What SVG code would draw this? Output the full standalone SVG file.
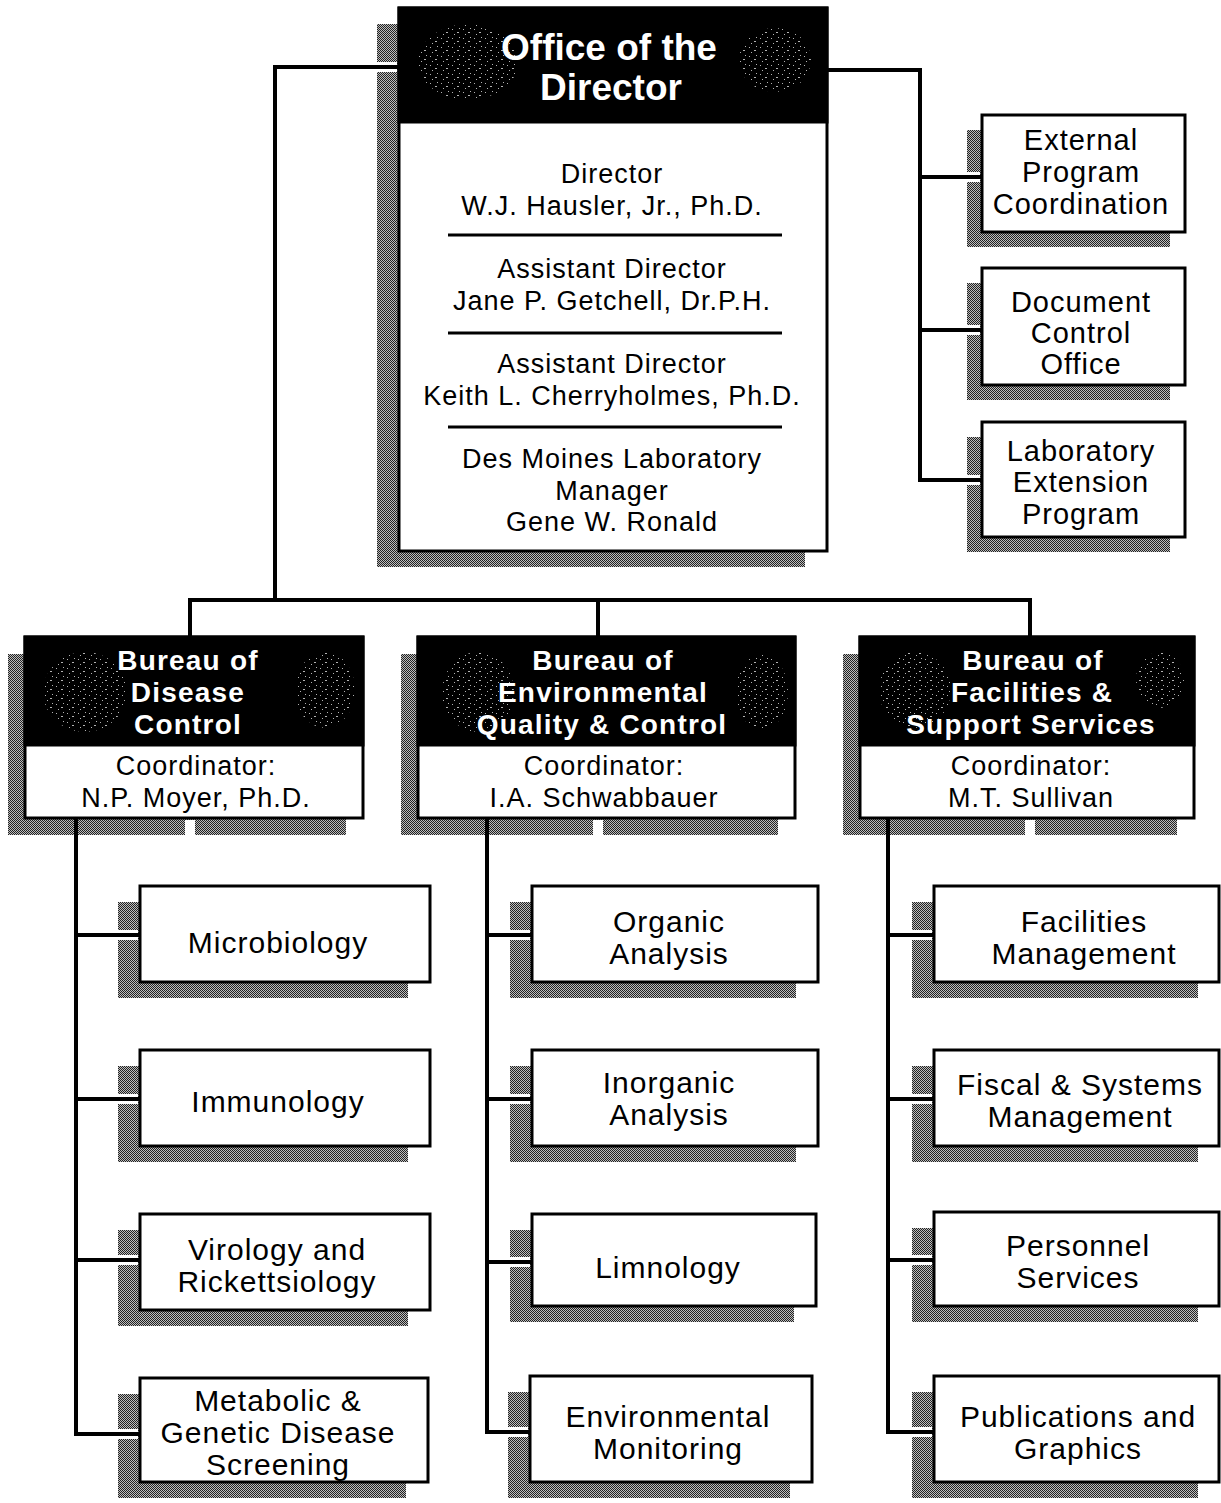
<svg xmlns="http://www.w3.org/2000/svg" width="1221" height="1503" viewBox="0 0 1221 1503">
<defs>
<pattern id="dots" patternUnits="userSpaceOnUse" width="2" height="2">
<rect width="2" height="2" fill="#bdbdbd"/>
<rect width="1" height="1" fill="#222"/>
<rect x="1" y="1" width="1" height="1" fill="#222"/>
</pattern>
<pattern id="speck" patternUnits="userSpaceOnUse" width="11" height="9">
<rect x="1" y="2" width="1" height="1" fill="#fff"/>
<rect x="6" y="5" width="2" height="1" fill="#fff"/>
<rect x="8" y="1" width="1" height="1" fill="#fff"/>
<rect x="3" y="7" width="1" height="1" fill="#fff"/>
</pattern>
<style>
.sh{fill:url(#dots)}
.box{fill:#fff;stroke:#000;stroke-width:3}
.hdr{fill:#000;stroke:#000;stroke-width:3}
.spk{fill:url(#speck);opacity:0.7}
.sep{stroke:#000;stroke-width:3}
.t{font-family:"Liberation Sans",Arial,Helvetica,sans-serif;font-size:27px;letter-spacing:1px;text-anchor:middle;fill:#000}
.ts{font-size:30px}
.tr{font-size:29px}
.h{font-weight:bold;fill:#fff;font-size:28px;letter-spacing:1.2px}
.ho{font-size:37px;letter-spacing:0}
.conn{stroke:#000;stroke-width:4;fill:none}
.halo{stroke:#fff;stroke-width:10;fill:none}
</style>
</defs>
<rect width="1221" height="1503" fill="#fff"/>

<g id="office-director">
<rect class="sh" x="377" y="24" width="428" height="543"/>
<rect class="box" x="399" y="8" width="428" height="543"/>
<rect class="hdr" x="399" y="8" width="428" height="114"/>
<ellipse class="spk" cx="468" cy="62" rx="50" ry="38"/>
<ellipse class="spk" cx="775" cy="60" rx="36" ry="32"/>
<text class="t h ho" x="609" y="60">Office of the</text>
<text class="t h ho" x="611" y="100">Director</text>
<text class="t" x="612" y="183">Director</text>
<text class="t" x="612" y="215">W.J. Hausler, Jr., Ph.D.</text>
<line class="sep" x1="448" y1="235" x2="782" y2="235"/>
<text class="t" x="612" y="278">Assistant Director</text>
<text class="t" x="612" y="310">Jane P. Getchell, Dr.P.H.</text>
<line class="sep" x1="448" y1="333" x2="782" y2="333"/>
<text class="t" x="612" y="373">Assistant Director</text>
<text class="t" x="612" y="405">Keith L. Cherryholmes, Ph.D.</text>
<line class="sep" x1="448" y1="427" x2="782" y2="427"/>
<text class="t" x="612" y="468">Des Moines Laboratory</text>
<text class="t" x="612" y="500">Manager</text>
<text class="t" x="612" y="531">Gene W. Ronald</text>
</g>

<g id="external-program">
<rect class="sh" x="967" y="130" width="203" height="117"/>
<rect class="box" x="982" y="115" width="203" height="117"/>
<text class="t tr" x="1081" y="150">External</text>
<text class="t tr" x="1081" y="182">Program</text>
<text class="t tr" x="1081" y="214">Coordination</text>
</g>

<g id="document-control">
<rect class="sh" x="967" y="283" width="203" height="117"/>
<rect class="box" x="982" y="268" width="203" height="117"/>
<text class="t tr" x="1081" y="312">Document</text>
<text class="t tr" x="1081" y="343">Control</text>
<text class="t tr" x="1081" y="374">Office</text>
</g>

<g id="lab-extension">
<rect class="sh" x="967" y="437" width="203" height="115"/>
<rect class="box" x="982" y="422" width="203" height="115"/>
<text class="t tr" x="1081" y="461">Laboratory</text>
<text class="t tr" x="1081" y="492">Extension</text>
<text class="t tr" x="1081" y="524">Program</text>
</g>

<g id="bureau-disease">
<rect class="sh" x="8" y="654" width="338" height="181"/>
<rect class="box" x="25" y="637" width="338" height="181"/>
<rect class="hdr" x="25" y="637" width="338" height="108"/>
<ellipse class="spk" cx="85" cy="692" rx="42" ry="40"/>
<ellipse class="spk" cx="325" cy="690" rx="30" ry="38"/>
<text class="t h" x="188" y="670">Bureau of</text>
<text class="t h" x="188" y="702">Disease</text>
<text class="t h" x="188" y="734">Control</text>
<text class="t" x="196" y="775">Coordinator:</text>
<text class="t" x="196" y="807">N.P. Moyer, Ph.D.</text>
</g>

<g id="bureau-environmental">
<rect class="sh" x="401" y="654" width="377" height="181"/>
<rect class="box" x="418" y="637" width="377" height="181"/>
<rect class="hdr" x="418" y="637" width="377" height="108"/>
<ellipse class="spk" cx="478" cy="692" rx="36" ry="40"/>
<ellipse class="spk" cx="762" cy="692" rx="26" ry="38"/>
<text class="t h" x="603" y="670">Bureau of</text>
<text class="t h" x="603" y="702">Environmental</text>
<text class="t h" x="602" y="734">Quality &amp; Control</text>
<text class="t" x="604" y="775">Coordinator:</text>
<text class="t" x="604" y="807">I.A. Schwabbauer</text>
</g>

<g id="bureau-facilities">
<rect class="sh" x="843" y="654" width="334" height="181"/>
<rect class="box" x="860" y="637" width="334" height="181"/>
<rect class="hdr" x="860" y="637" width="334" height="108"/>
<ellipse class="spk" cx="915" cy="690" rx="36" ry="38"/>
<ellipse class="spk" cx="1160" cy="680" rx="24" ry="28"/>
<text class="t h" x="1033" y="670">Bureau of</text>
<text class="t h" x="1032" y="702">Facilities &amp;</text>
<text class="t h" x="1031" y="734">Support Services</text>
<text class="t" x="1031" y="775">Coordinator:</text>
<text class="t" x="1031" y="807">M.T. Sullivan</text>
</g>

<g id="microbiology">
<rect class="sh" x="118" y="902" width="290" height="96"/>
<rect class="box" x="140" y="886" width="290" height="96"/>
<text class="t ts" x="278" y="953">Microbiology</text>
</g>
<g id="immunology">
<rect class="sh" x="118" y="1066" width="290" height="96"/>
<rect class="box" x="140" y="1050" width="290" height="96"/>
<text class="t ts" x="278" y="1112">Immunology</text>
</g>
<g id="virology">
<rect class="sh" x="118" y="1230" width="290" height="96"/>
<rect class="box" x="140" y="1214" width="290" height="96"/>
<text class="t ts" x="277" y="1260">Virology and</text>
<text class="t ts" x="277" y="1292">Rickettsiology</text>
</g>
<g id="metabolic">
<rect class="sh" x="118" y="1394" width="288" height="104"/>
<rect class="box" x="140" y="1378" width="288" height="104"/>
<text class="t ts" x="278" y="1411">Metabolic &amp;</text>
<text class="t ts" x="278" y="1443">Genetic Disease</text>
<text class="t ts" x="278" y="1475">Screening</text>
</g>

<g id="organic">
<rect class="sh" x="510" y="902" width="286" height="96"/>
<rect class="box" x="532" y="886" width="286" height="96"/>
<text class="t ts" x="669" y="932">Organic</text>
<text class="t ts" x="669" y="964">Analysis</text>
</g>
<g id="inorganic">
<rect class="sh" x="510" y="1066" width="286" height="96"/>
<rect class="box" x="532" y="1050" width="286" height="96"/>
<text class="t ts" x="669" y="1093">Inorganic</text>
<text class="t ts" x="669" y="1125">Analysis</text>
</g>
<g id="limnology">
<rect class="sh" x="510" y="1230" width="284" height="92"/>
<rect class="box" x="532" y="1214" width="284" height="92"/>
<text class="t ts" x="668" y="1278">Limnology</text>
</g>
<g id="env-monitoring">
<rect class="sh" x="508" y="1392" width="282" height="106"/>
<rect class="box" x="530" y="1376" width="282" height="106"/>
<text class="t ts" x="668" y="1427">Environmental</text>
<text class="t ts" x="668" y="1459">Monitoring</text>
</g>

<g id="facilities-mgmt">
<rect class="sh" x="912" y="902" width="286" height="96"/>
<rect class="box" x="934" y="886" width="285" height="96"/>
<text class="t ts" x="1084" y="932">Facilities</text>
<text class="t ts" x="1084" y="964">Management</text>
</g>
<g id="fiscal">
<rect class="sh" x="912" y="1066" width="286" height="96"/>
<rect class="box" x="934" y="1050" width="285" height="96"/>
<text class="t ts" x="1080" y="1095">Fiscal &amp; Systems</text>
<text class="t ts" x="1080" y="1127">Management</text>
</g>
<g id="personnel">
<rect class="sh" x="912" y="1228" width="286" height="94"/>
<rect class="box" x="934" y="1212" width="285" height="94"/>
<text class="t ts" x="1078" y="1256">Personnel</text>
<text class="t ts" x="1078" y="1288">Services</text>
</g>
<g id="publications">
<rect class="sh" x="912" y="1392" width="286" height="106"/>
<rect class="box" x="934" y="1376" width="285" height="106"/>
<text class="t ts" x="1078" y="1427">Publications and</text>
<text class="t ts" x="1078" y="1459">Graphics</text>
</g>

<g id="connectors">
<g class="halo">
<path d="M370 67H397"/>
<path d="M960 177H980M960 330H980M960 480H980"/>
<path d="M190 820V842M598 820V842M1030 820V842"/>
<path d="M110 935H138M110 1099H138M110 1260H138M110 1434H138"/>
<path d="M502 935H530M502 1099H530M502 1262H530M500 1432H528"/>
<path d="M904 935H932M904 1099H932M904 1260H932M904 1432H932"/>
</g>
<path class="conn" d="M399 67H275V600"/>
<path class="conn" d="M190 637V600H1030V637M598 600V637"/>
<path class="conn" d="M827 70H920V480H982M920 177H982M920 330H982"/>
<path class="conn" d="M76 818V1434H140M76 935H140M76 1099H140M76 1260H140"/>
<path class="conn" d="M487 818V1432H530M487 935H532M487 1099H532M487 1262H532"/>
<path class="conn" d="M888 818V1432H934M888 935H934M888 1099H934M888 1260H934"/>
</g>
</svg>
